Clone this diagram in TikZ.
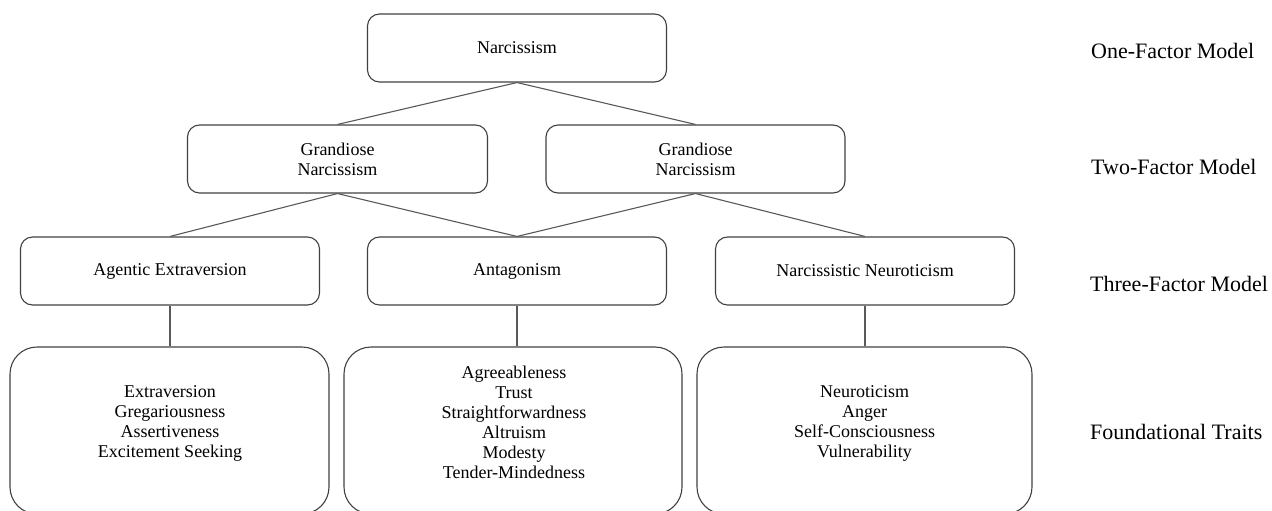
\documentclass[tikz,border=0pt]{standalone}
\usepackage{fontspec}
\setmainfont{Liberation Serif}
\begin{document}
\begin{tikzpicture}[x=1pt,y=-1pt,
  box/.style={draw=black!75, line width=1.1pt, rounded corners=12pt, minimum height=68pt, inner sep=0pt, align=center, font=\fontsize{18}{20}\selectfont},
  bigbox/.style={draw=black!75, line width=1.1pt, rounded corners=27pt, inner sep=0pt, minimum height=167pt},
  txt/.style={align=center, inner sep=0pt, font=\fontsize{18}{20}\selectfont},
  lvl/.style={anchor=base west, inner sep=0pt, font=\fontsize{22}{26}\selectfont},
  conn/.style={draw=black!65, line width=1.1pt}]
\useasboundingbox (0,0) rectangle (1272,511);

% level 1
\node[box, minimum width=299pt] (n1) at (517,48) {Narcissism};
% level 2
\node[box, minimum width=300pt] (g1) at (337.5,159) {Grandiose\\Narcissism};
\node[box, minimum width=299pt] (g2) at (695.5,159) {Grandiose\\Narcissism};
% level 3
\node[box, minimum width=299pt] (t1) at (170,271) {Agentic Extraversion};
\node[box, minimum width=299pt] (t2) at (517,271) {Antagonism};
\node[box, minimum width=299pt] (t3) at (865,271) {Narcissistic Neuroticism};
% level 4
\begin{scope}
\clip (0,0) rectangle (1272,511);
\node[bigbox, minimum width=319pt] (b1) at (169.5,430.5) {};
\node[bigbox, minimum width=338pt] (b2) at (513,430.5) {};
\node[bigbox, minimum width=335pt] (b3) at (864.5,430.5) {};
\end{scope}
\node[txt] (b1t) at (170,423) {Extraversion\\Gregariousness\\Assertiveness\\Excitement Seeking};
\node[txt] (b2t) at (514,422.5) {Agreeableness\\Trust\\Straightforwardness\\Altruism\\Modesty\\Tender-Mindedness};
\node[txt] (b3t) at (864.5,423) {Neuroticism\\Anger\\Self-Consciousness\\Vulnerability};

% connectors
\draw[conn] (n1.south) -- (g1.north);
\draw[conn] (n1.south) -- (g2.north);
\draw[conn] (g1.south) -- (t1.north);
\draw[conn] (g1.south) -- (t2.north);
\draw[conn] (g2.south) -- (t2.north);
\draw[conn] (g2.south) -- (t3.north);
\draw[conn] (t1.south) -- (t1.south |- b1.north);
\draw[conn] (t2.south) -- (t2.south |- b2.north);
\draw[conn] (t3.south) -- (t3.south |- b3.north);

% level labels
\node[lvl] (l1) at (1091,59) {One-Factor Model};
\node[lvl] (l2) at (1091,174) {Two-Factor Model};
\node[lvl] (l3) at (1090,291) {Three-Factor Model};
\node[lvl] (l4) at (1090,439) {Foundational Traits};
\end{tikzpicture}
\end{document}
